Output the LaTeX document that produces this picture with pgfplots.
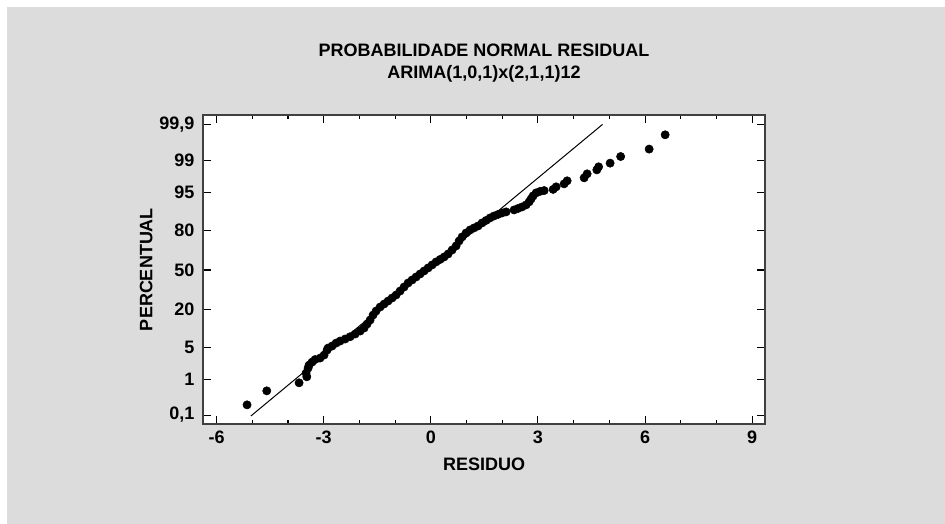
\documentclass[border=0pt]{standalone}
\usepackage{fontspec}
\setmainfont{Liberation Sans}
\usepackage{pgfplots}
\pgfplotsset{compat=1.18}
\definecolor{bg}{RGB}{220,220,220}
\begin{document}
\begin{tikzpicture}
\path[use as bounding box] (0pt,0pt) rectangle (708.75pt,-393pt);
\fill[white] (0pt,0pt) rectangle (708.75pt,-393pt);
\fill[bg] (5.25pt,-5.25pt) rectangle (708.75pt,-393pt);
\begin{axis}[
    at={(152.25pt,-318pt)}, anchor=south west,
    width=421.5pt, height=231.75pt, scale only axis,
    xmin=-6.38, xmax=9.36, ymin=-3.28, ymax=3.30,
    xtick={-6,-3,0,3,6,9},
    minor xtick={-5,-4,-2,-1,1,2,4,5,7,8},
    ytick={-3.0902,-2.3263,-1.6449,-0.8416,0,0.8416,1.6449,2.3263,3.0902},
    yticklabels={{0,1},1,5,20,50,80,95,99,{99,9}},
    tick align=inside,
    major tick length=6pt, minor tick length=3pt,
    tick style={black, line width=0.8pt},
    axis line style={black!75, line width=1.6pt},
    axis background/.style={fill=white},
    tick label style={font=\fontsize{13.5}{15}\selectfont\bfseries},
    /pgf/number format/assume math mode=true,
    xticklabel style={yshift=-2pt},
    yticklabel style={xshift=-3pt},
    xlabel={RESIDUO}, ylabel={PERCENTUAL},
    label style={font=\fontsize{13.5}{15}\selectfont\bfseries},
    xlabel style={at={(axis description cs:0.5,-0.129)}, anchor=center},
    ylabel style={at={(axis description cs:-0.101,0.5)}, anchor=center, rotate=0},
    title={PROBABILIDADE NORMAL RESIDUAL\\ARIMA(1,0,1)x(2,1,1)12},
    title style={at={(axis description cs:0.5,1.142)}, anchor=center, align=center,
        font=\fontsize{13.5}{16.5}\selectfont\bfseries},
]
\addplot[black, line width=0.75pt] coordinates {(-5.04,-3.11) (4.81,3.10)};
\addplot[only marks, mark=*, mark size=3.1pt, black] coordinates {
(-5.146,-2.872) (-4.594,-2.574) (-3.689,-2.403) (-3.473,-2.275)
(-3.493,-2.196) (-3.437,-2.090) (-3.409,-2.026) (-3.325,-1.962)
(-3.241,-1.908) (-3.101,-1.876) (-2.989,-1.812) (-2.905,-1.706)
(-2.877,-1.663) (-2.765,-1.620) (-2.653,-1.557) (-2.541,-1.514)
(-2.401,-1.471) (-2.261,-1.422) (-2.120,-1.365) (-1.980,-1.301)
(-1.868,-1.237) (-1.784,-1.151) (-1.700,-1.066) (-1.616,-0.959)
(-1.532,-0.874) (-1.420,-0.789) (-1.308,-0.725) (-1.196,-0.661)
(-1.084,-0.597) (-0.972,-0.533) (-0.860,-0.448) (-0.748,-0.362)
(-0.636,-0.277) (-0.524,-0.213) (-0.412,-0.149) (-0.300,-0.085)
(-0.188,-0.021) (-0.076,0.043) (0.036,0.107) (0.148,0.171)
(0.261,0.224) (0.373,0.277) (0.485,0.341) (0.597,0.426)
(0.709,0.512) (0.793,0.618) (0.877,0.704) (0.989,0.789)
(1.101,0.853) (1.213,0.896) (1.325,0.938) (1.437,1.002)
(1.549,1.055) (1.661,1.109) (1.773,1.151) (1.885,1.183)
(1.997,1.215) (2.109,1.237) (2.333,1.279) (2.445,1.311)
(2.557,1.343) (2.669,1.386) (2.754,1.450) (2.810,1.514)
(2.866,1.578) (2.950,1.642) (3.062,1.674) (3.174,1.691)
(3.426,1.716) (3.510,1.770) (3.734,1.834) (3.818,1.898)
(4.294,1.962) (4.378,2.047) (4.650,2.132) (4.700,2.196)
(5.022,2.275) (5.317,2.416) (6.115,2.574) (6.563,2.878)
};
\end{axis}
\end{tikzpicture}
\end{document}
